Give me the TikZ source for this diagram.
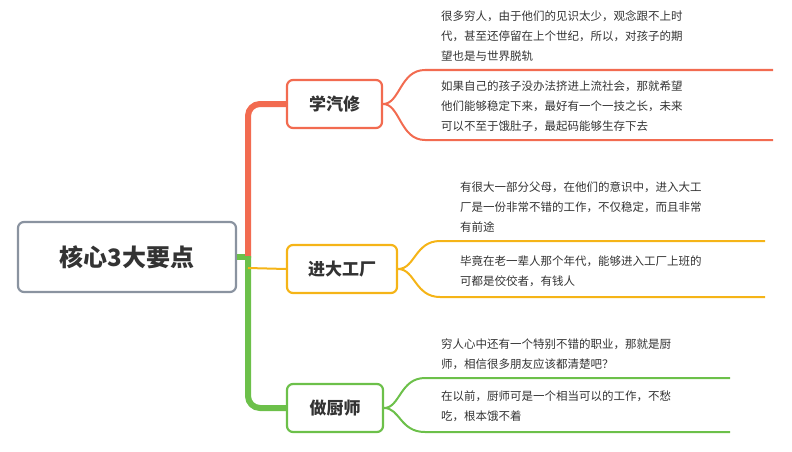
\documentclass[tikz,border=0pt]{standalone}
\usepackage{fontspec}
\setmainfont{Noto Sans CJK SC}
\definecolor{cr}{HTML}{F26B50}
\definecolor{cy}{HTML}{F5B417}
\definecolor{cg}{HTML}{6CC04A}
\definecolor{cgr}{HTML}{8A93A0}
\definecolor{tx}{HTML}{333333}
\begin{document}
\begin{tikzpicture}[x=1pt,y=-1pt,
 box/.style={draw,line width=2.2pt,rounded corners=6pt,inner sep=0pt,text=tx,font=\fontsize{17}{20}\selectfont\bfseries},
 txt/.style={anchor=north west,align=left,text=tx,font=\fontsize{11.5}{20}\selectfont,inner sep=0pt}]
\useasboundingbox (0,0) rectangle (792,452);
\node[box,draw=cgr,minimum width=218,minimum height=70,font=\fontsize{24}{28}\selectfont\bfseries] (root) at (127,257) {核心3大要点};
\node[box,draw=cr,minimum width=95,minimum height=48] (a) at (334.5,104) {学汽修};
\node[box,draw=cy,minimum width=110,minimum height=48] (b) at (342,269) {进大工厂};
\node[box,draw=cg,minimum width=96,minimum height=48] (c) at (335,408) {做厨师};
% trunk
\draw[cg,line width=6pt] (root.east) -- (248,257);
\draw[cr,line width=6pt,rounded corners=12pt] (248,258) -- (248,104) -- (a.west);
\draw[cg,line width=6pt,rounded corners=12pt] (248,256) -- (248,408) -- (c.west);
\draw[cy,line width=2pt] (248,268) -- (b.west);
% leaves
\coordinate (a1) at (773,70); \coordinate (a2) at (773,140);
\coordinate (b1) at (765,241); \coordinate (b2) at (765,297);
\coordinate (c1) at (730,378); \coordinate (c2) at (730,432);
\draw[cr,line width=2pt] (a.east) .. controls (400,104) and (400,70) .. (425,70) -- (a1);
\draw[cr,line width=2pt] (a.east) .. controls (400,104) and (400,140) .. (425,140) -- (a2);
\draw[cy,line width=2pt] (b.east) .. controls (415,269) and (415,241) .. (440,241) -- (b1);
\draw[cy,line width=2pt] (b.east) .. controls (415,269) and (415,297) .. (440,297) -- (b2);
\draw[cg,line width=2pt] (c.east) .. controls (400,408) and (400,378) .. (425,378) -- (c1);
\draw[cg,line width=2pt] (c.east) .. controls (400,408) and (400,432) .. (425,432) -- (c2);
\node[txt] (ta1) at (441,10) {很多穷人，由于他们的见识太少，观念跟不上时\\代，甚至还停留在上个世纪，所以，对孩子的期\\望也是与世界脱轨};
\node[txt] (ta2) at (441,81) {如果自己的孩子没办法挤进上流社会，那就希望\\他们能够稳定下来，最好有一个一技之长，未来\\可以不至于饿肚子，最起码能够生存下去};
\node[txt] (tb1) at (460,182) {有很大一部分父母，在他们的意识中，进入大工\\厂是一份非常不错的工作，不仅稳定，而且非常\\有前途};
\node[txt] (tb2) at (460,256) {毕竟在老一辈人那个年代，能够进入工厂上班的\\可都是佼佼者，有钱人};
\node[txt] (tc1) at (441,339) {穷人心中还有一个特别不错的职业，那就是厨\\师，相信很多朋友应该都清楚吧？};
\node[txt] (tc2) at (441,391) {在以前，厨师可是一个相当可以的工作，不愁\\吃，根本饿不着};
\end{tikzpicture}
\end{document}
